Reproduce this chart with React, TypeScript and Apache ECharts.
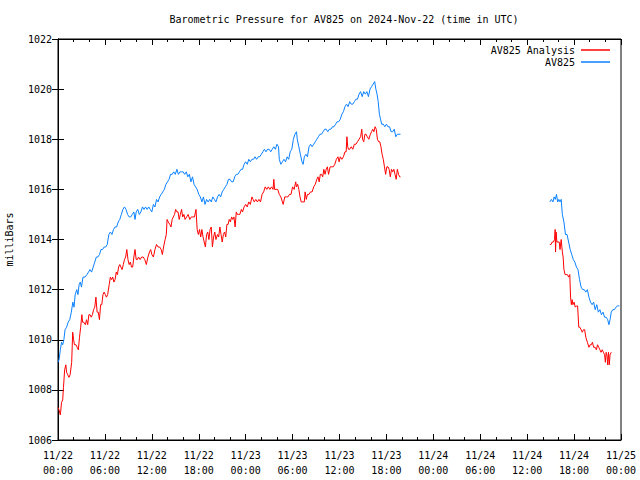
import React, { useEffect, useRef } from "react";
import * as echarts from "echarts";

const TITLE = "Barometric Pressure for AV825 on 2024-Nov-22 (time in UTC)";
const Y_NAME = "milliBars";
const SERIES_NAMES = ["AV825 Analysis", "AV825"];
const SERIES_COLORS = ["#ff0000", "#0a80ff"];
const DAYS = ["11/22", "11/23", "11/24", "11/25"];
const Y_MIN = 1006;
const Y_MAX = 1022;
const Y_STEP = 2;
const X_MIN = 0; // hours since 11/22 00:00
const X_MAX = 72;
const X_STEP = 6;

// [hours since 2024-11-22 00:00 UTC, mb]
const analysisPart1: [number, number][] = [
  [0.0, 1007.3], [0.13, 1007.2], [0.3, 1007.0], [0.45, 1007.5], [0.6, 1007.6], [0.7, 1008.1], [0.85, 1008.8], [1.0, 1009.0],
  [1.1, 1008.7], [1.25, 1008.6], [1.4, 1008.5], [1.55, 1008.6], [1.75, 1009.1], [1.88, 1010.3], [2.0, 1010.0], [2.1, 1009.8],
  [2.3, 1009.8], [2.45, 1009.7], [2.6, 1009.6], [2.75, 1010.1], [2.9, 1010.5], [3.05, 1011.0], [3.15, 1010.7], [3.3, 1010.7],
  [3.5, 1010.6], [3.65, 1010.8], [3.8, 1010.6], [3.95, 1011.0], [4.1, 1011.0], [4.25, 1010.9], [4.4, 1011.0], [4.55, 1011.2],
  [4.7, 1011.3], [4.85, 1011.7], [5.0, 1011.1], [5.15, 1011.1], [5.3, 1010.8], [5.45, 1011.4], [5.6, 1011.4], [5.75, 1011.8],
  [5.9, 1011.9], [6.05, 1011.8], [6.2, 1011.7], [6.35, 1011.8], [6.55, 1012.2], [6.7, 1012.5], [6.85, 1012.4], [7.0, 1012.5],
  [7.15, 1012.3], [7.3, 1012.4], [7.45, 1012.7], [7.6, 1012.6], [7.75, 1012.9], [7.9, 1013.0], [8.05, 1012.9], [8.2, 1012.8],
  [8.35, 1013.0], [8.5, 1013.2], [8.65, 1013.3], [8.8, 1013.6], [8.95, 1013.2], [9.1, 1013.0], [9.25, 1013.1], [9.4, 1012.9],
  [9.55, 1012.9], [9.7, 1013.3], [9.85, 1013.6], [10.0, 1013.2], [10.15, 1013.2], [10.3, 1013.3], [10.5, 1013.2], [10.7, 1013.3],
  [10.9, 1013.3], [11.1, 1013.2], [11.3, 1013.0], [11.5, 1013.3], [11.7, 1013.5], [11.85, 1013.6], [12.0, 1013.4], [12.2, 1013.3],
  [12.4, 1013.6], [12.6, 1013.8], [12.8, 1013.7], [13.0, 1013.7], [13.2, 1013.6], [13.35, 1013.4], [13.5, 1013.7], [13.7, 1014.0],
  [13.85, 1014.2], [13.95, 1014.8], [14.1, 1014.7], [14.3, 1014.6], [14.45, 1014.5], [14.6, 1014.8], [14.75, 1014.9], [14.9, 1015.0],
  [15.05, 1015.2], [15.2, 1015.1], [15.35, 1015.1], [15.5, 1014.8], [15.65, 1015.0], [15.8, 1015.2], [15.95, 1014.9], [16.1, 1015.0],
  [16.25, 1014.8], [16.45, 1014.9], [16.65, 1015.0], [16.85, 1014.8], [17.05, 1014.9], [17.25, 1014.9], [17.45, 1014.9], [17.65, 1015.2],
  [17.8, 1014.4], [17.95, 1014.2], [18.1, 1014.4], [18.25, 1014.1], [18.4, 1014.4], [18.55, 1014.1], [18.7, 1013.9], [18.85, 1013.7],
  [19.0, 1014.2], [19.15, 1014.3], [19.3, 1014.0], [19.45, 1014.4], [19.6, 1014.5], [19.75, 1013.7], [19.9, 1014.1], [20.05, 1014.3],
  [20.2, 1014.0], [20.4, 1014.2], [20.55, 1014.1], [20.7, 1014.5], [20.85, 1014.2], [21.0, 1013.9], [21.15, 1014.2], [21.3, 1014.3],
  [21.45, 1014.1], [21.6, 1014.6], [21.75, 1014.6], [21.9, 1014.8], [22.05, 1014.7], [22.2, 1014.9], [22.35, 1014.8], [22.5, 1014.9],
  [22.65, 1014.5], [22.8, 1015.1], [22.95, 1015.0], [23.1, 1015.0], [23.25, 1015.0], [23.45, 1015.2], [23.6, 1015.1], [23.8, 1015.3],
  [24.0, 1015.4], [24.2, 1015.3], [24.4, 1015.5], [24.6, 1015.4], [24.8, 1015.7], [24.95, 1015.6], [25.1, 1015.5], [25.3, 1015.6],
  [25.5, 1015.5], [25.7, 1015.6], [25.9, 1015.5], [26.1, 1015.8], [26.3, 1015.9], [26.5, 1016.1], [26.7, 1016.0], [26.9, 1016.1],
  [27.1, 1016.0], [27.3, 1016.1], [27.5, 1016.0], [27.6, 1016.4], [27.7, 1016.0], [27.9, 1016.0], [28.1, 1016.0], [28.3, 1015.8],
  [28.5, 1015.7], [28.7, 1015.5], [28.8, 1015.4], [29.0, 1015.7], [29.2, 1015.7], [29.4, 1015.7], [29.6, 1015.8], [29.8, 1015.8],
  [30.0, 1016.1], [30.2, 1016.0], [30.4, 1016.3], [30.5, 1016.1], [30.65, 1016.2], [30.8, 1016.0], [30.95, 1015.7], [31.1, 1015.5],
  [31.3, 1015.5], [31.5, 1015.5], [31.6, 1015.9], [31.75, 1015.6], [31.9, 1015.8], [32.1, 1015.8], [32.3, 1015.9], [32.5, 1015.9],
  [32.7, 1016.1], [32.9, 1016.2], [33.1, 1016.4], [33.25, 1016.5], [33.4, 1016.3], [33.55, 1016.6], [33.7, 1016.6], [33.85, 1016.5],
  [34.0, 1016.8], [34.15, 1016.6], [34.3, 1016.8], [34.45, 1016.9], [34.6, 1016.6], [34.8, 1016.9], [35.0, 1016.9], [35.2, 1016.9],
  [35.4, 1017.0], [35.6, 1017.2], [35.8, 1017.3], [35.95, 1017.1], [36.1, 1017.3], [36.3, 1017.2], [36.5, 1017.3], [36.7, 1017.5],
  [36.85, 1017.5], [36.95, 1018.1], [37.05, 1017.7], [37.15, 1017.6], [37.3, 1017.6], [37.5, 1017.7], [37.7, 1017.6], [37.9, 1017.8],
  [38.1, 1017.8], [38.3, 1017.9], [38.5, 1018.0], [38.7, 1018.1], [38.85, 1018.4], [38.95, 1018.0], [39.1, 1017.9], [39.25, 1018.2],
  [39.4, 1018.2], [39.55, 1018.1], [39.75, 1018.0], [39.95, 1018.2], [40.1, 1018.3], [40.25, 1018.4], [40.4, 1018.3], [40.55, 1018.5],
  [40.7, 1018.4], [40.85, 1018.0], [41.0, 1017.9], [41.15, 1017.9], [41.3, 1017.7], [41.45, 1017.4], [41.6, 1017.2], [41.75, 1016.9],
  [41.9, 1016.6], [42.05, 1016.9], [42.2, 1016.9], [42.35, 1016.8], [42.5, 1016.5], [42.65, 1016.8], [42.8, 1016.7], [42.95, 1016.8],
  [43.1, 1016.6], [43.25, 1016.4], [43.4, 1016.8], [43.55, 1016.6], [43.7, 1016.5], [43.8, 1016.5],
];

const analysisPart2: [number, number][] = [
  [62.9, 1013.8], [63.05, 1013.8], [63.2, 1013.9], [63.35, 1013.9], [63.5, 1014.0], [63.58, 1014.4], [63.63, 1013.5], [63.7, 1014.3],
  [63.8, 1013.9], [63.95, 1013.9], [64.1, 1013.9], [64.2, 1013.6], [64.35, 1014.0], [64.5, 1013.5], [64.6, 1013.3], [64.7, 1012.8],
  [64.85, 1012.6], [65.0, 1012.6], [65.15, 1012.6], [65.3, 1012.5], [65.45, 1012.6], [65.55, 1011.7], [65.65, 1011.4], [65.75, 1011.6],
  [65.85, 1011.4], [66.0, 1011.5], [66.15, 1011.3], [66.3, 1011.35], [66.45, 1011.35], [66.6, 1010.5], [66.75, 1010.5], [66.9, 1010.4],
  [67.05, 1010.3], [67.2, 1010.4], [67.35, 1010.4], [67.5, 1010.1], [67.7, 1009.9], [67.9, 1009.7], [68.05, 1009.8], [68.2, 1009.8],
  [68.35, 1009.9], [68.5, 1009.7], [68.7, 1009.7], [68.85, 1009.6], [69.0, 1009.8], [69.15, 1009.7], [69.3, 1009.6], [69.45, 1009.5],
  [69.6, 1009.6], [69.75, 1009.5], [69.9, 1009.4], [70.0, 1009.1], [70.1, 1009.5], [70.2, 1009.4], [70.3, 1009.0], [70.4, 1009.5],
  [70.5, 1009.0], [70.6, 1009.4], [70.75, 1009.5],
];

const stationPart1: [number, number][] = [
  [0.0, 1009.1], [0.13, 1009.2], [0.3, 1009.6], [0.45, 1009.9], [0.6, 1009.8], [0.75, 1010.0], [0.9, 1010.4], [1.1, 1010.5],
  [1.3, 1010.7], [1.5, 1010.8], [1.7, 1011.1], [1.9, 1011.5], [2.05, 1011.3], [2.2, 1011.8], [2.4, 1012.0], [2.55, 1011.8],
  [2.7, 1012.2], [2.85, 1012.3], [3.0, 1012.1], [3.2, 1012.5], [3.45, 1012.5], [3.7, 1012.6], [3.9, 1012.7], [4.1, 1012.8],
  [4.3, 1012.7], [4.5, 1012.9], [4.7, 1013.1], [4.9, 1013.3], [5.1, 1013.3], [5.3, 1013.4], [5.5, 1013.6], [5.7, 1013.6],
  [5.9, 1013.7], [6.1, 1013.7], [6.3, 1013.8], [6.5, 1014.2], [6.7, 1014.3], [6.9, 1014.2], [7.1, 1014.4], [7.3, 1014.5],
  [7.5, 1014.5], [7.7, 1014.7], [7.9, 1014.8], [8.1, 1015.0], [8.3, 1015.2], [8.5, 1015.3], [8.7, 1015.2], [8.9, 1015.0],
  [9.1, 1014.9], [9.3, 1014.9], [9.5, 1015.0], [9.7, 1015.1], [9.85, 1014.8], [10.0, 1015.1], [10.2, 1015.2], [10.4, 1015.0],
  [10.6, 1015.1], [10.8, 1015.3], [11.0, 1015.2], [11.2, 1015.3], [11.4, 1015.2], [11.6, 1015.3], [11.8, 1015.2], [12.0, 1015.1],
  [12.2, 1015.4], [12.4, 1015.3], [12.6, 1015.6], [12.8, 1015.5], [13.0, 1015.7], [13.2, 1015.8], [13.4, 1015.9], [13.6, 1016.0],
  [13.8, 1016.2], [14.0, 1016.3], [14.2, 1016.4], [14.4, 1016.6], [14.6, 1016.6], [14.8, 1016.7], [15.0, 1016.6], [15.2, 1016.8],
  [15.4, 1016.6], [15.6, 1016.7], [15.8, 1016.7], [16.0, 1016.7], [16.2, 1016.6], [16.4, 1016.7], [16.6, 1016.5], [16.8, 1016.6],
  [17.0, 1016.3], [17.2, 1016.5], [17.4, 1016.2], [17.6, 1016.1], [17.8, 1016.0], [18.0, 1015.8], [18.2, 1015.7], [18.4, 1015.5],
  [18.6, 1015.7], [18.8, 1015.4], [19.0, 1015.6], [19.2, 1015.5], [19.4, 1015.6], [19.6, 1015.5], [19.8, 1015.7], [20.0, 1015.6],
  [20.2, 1015.5], [20.4, 1015.7], [20.6, 1015.8], [20.8, 1015.7], [21.0, 1015.9], [21.2, 1016.0], [21.4, 1016.1], [21.6, 1016.2],
  [21.8, 1016.4], [22.0, 1016.4], [22.2, 1016.3], [22.4, 1016.3], [22.6, 1016.5], [22.8, 1016.6], [23.0, 1016.6], [23.2, 1016.7],
  [23.4, 1016.8], [23.6, 1016.8], [23.8, 1017.0], [24.0, 1017.1], [24.2, 1017.0], [24.4, 1017.2], [24.6, 1017.1], [24.8, 1017.2],
  [25.0, 1017.2], [25.2, 1017.3], [25.4, 1017.2], [25.6, 1017.3], [25.8, 1017.3], [26.0, 1017.4], [26.2, 1017.5], [26.4, 1017.6],
  [26.6, 1017.5], [26.8, 1017.6], [27.0, 1017.6], [27.2, 1017.5], [27.4, 1017.6], [27.6, 1017.7], [27.8, 1017.6], [28.0, 1017.8],
  [28.2, 1017.7], [28.3, 1017.2], [28.5, 1017.0], [28.7, 1017.1], [28.9, 1017.2], [29.1, 1017.1], [29.3, 1017.3], [29.5, 1017.2],
  [29.7, 1017.5], [29.9, 1017.6], [30.1, 1018.0], [30.3, 1018.2], [30.5, 1018.3], [30.6, 1018.0], [30.8, 1017.7], [31.0, 1017.4],
  [31.2, 1017.1], [31.35, 1017.0], [31.5, 1017.3], [31.7, 1017.4], [31.9, 1017.3], [32.1, 1017.7], [32.3, 1017.8], [32.5, 1017.7],
  [32.7, 1017.8], [32.9, 1017.9], [33.1, 1018.0], [33.3, 1018.1], [33.5, 1018.2], [33.7, 1018.2], [33.9, 1018.3], [34.1, 1018.4],
  [34.3, 1018.4], [34.5, 1018.3], [34.7, 1018.4], [34.9, 1018.4], [35.1, 1018.5], [35.3, 1018.5], [35.5, 1018.6], [35.7, 1018.7],
  [35.9, 1018.7], [36.1, 1018.8], [36.3, 1019.0], [36.5, 1019.1], [36.7, 1019.3], [36.9, 1019.4], [37.1, 1019.3], [37.3, 1019.5],
  [37.5, 1019.4], [37.7, 1019.4], [37.9, 1019.5], [38.1, 1019.6], [38.3, 1019.6], [38.5, 1019.8], [38.7, 1019.9], [38.9, 1019.7],
  [39.1, 1019.9], [39.3, 1019.8], [39.5, 1019.9], [39.7, 1019.7], [39.9, 1020.0], [40.1, 1020.1], [40.3, 1020.2], [40.5, 1020.3],
  [40.65, 1020.0], [40.8, 1019.8], [40.95, 1019.5], [41.1, 1019.0], [41.25, 1018.8], [41.4, 1018.6], [41.6, 1018.6], [41.8, 1018.5],
  [42.0, 1018.6], [42.2, 1018.5], [42.4, 1018.5], [42.6, 1018.3], [42.8, 1018.3], [43.0, 1018.4], [43.2, 1018.1], [43.4, 1018.2],
  [43.6, 1018.2], [43.8, 1018.2],
];

const stationPart2: [number, number][] = [
  [62.9, 1015.5], [63.1, 1015.6], [63.3, 1015.5], [63.45, 1015.7], [63.6, 1015.6], [63.75, 1015.8], [63.9, 1015.5], [64.05, 1015.6],
  [64.2, 1015.5], [64.35, 1015.6], [64.5, 1015.0], [64.7, 1014.7], [64.9, 1014.2], [65.1, 1014.2], [65.3, 1013.9], [65.5, 1013.6],
  [65.7, 1013.4], [65.9, 1013.2], [66.1, 1013.1], [66.3, 1012.9], [66.5, 1012.8], [66.7, 1012.4], [66.9, 1012.1], [67.1, 1012.0],
  [67.3, 1012.0], [67.5, 1011.9], [67.7, 1012.0], [67.9, 1011.7], [68.1, 1011.5], [68.3, 1011.4], [68.5, 1011.5], [68.7, 1011.2],
  [68.9, 1011.4], [69.1, 1011.1], [69.3, 1011.2], [69.5, 1011.0], [69.7, 1011.1], [69.9, 1010.9], [70.1, 1010.9], [70.3, 1010.8],
  [70.45, 1010.6], [70.6, 1010.8], [70.75, 1011.1], [70.95, 1011.2], [71.15, 1011.2], [71.35, 1011.3], [71.55, 1011.35], [71.8, 1011.35],
];

const FONT = '"DejaVu Sans Mono", "Liberation Mono", monospace';

function joinParts(a: [number, number][], b: [number, number][]) {
  return [...a, [53, "-"], ...b];
}

export default function App() {
  const ref = useRef<HTMLDivElement>(null);
  useEffect(() => {
    if (!ref.current) return;
    const chart = echarts.init(ref.current, null, { renderer: "svg" });
    const xLabel = (v: number) => {
      const day = DAYS[Math.floor(v / 24)];
      const hh = String(v % 24).padStart(2, "0");
      return `${day}\n${hh}:00`;
    };
    const tickBase = {
      show: true,
      inside: true,
      length: 6,
      lineStyle: { color: "#000", width: 1 },
    };
    const minorBase = {
      show: true,
      splitNumber: 3,
      length: 3,
      lineStyle: { color: "#000", width: 1 },
    };
    chart.setOption({
      animation: false,
      backgroundColor: "#fff",
      title: {
        text: TITLE,
        left: 339,
        top: 9,
        textAlign: "center",
        textStyle: { fontFamily: FONT, fontSize: 10, fontWeight: "normal", color: "#000" },
      },
      legend: {
        orient: "vertical",
        right: 25,
        top: 40,
        align: "right",
        icon: "rect",
        itemWidth: 29,
        itemHeight: 1.5,
        itemGap: 2,
        textStyle: { fontFamily: FONT, fontSize: 10, color: "#000", padding: [0, 1, 0, 0] },
        data: SERIES_NAMES,
      },
      grid: {
        left: 58,
        right: 19,
        top: 39,
        bottom: 40,
        show: true,
        borderColor: "#000",
        borderWidth: 1,
        containLabel: false,
        outerBoundsMode: "none",
      },
      xAxis: [
        {
          type: "value",
          min: X_MIN,
          max: X_MAX,
          interval: X_STEP,
          position: "bottom",
          axisLine: { show: true, lineStyle: { color: "#000", width: 1 } },
          axisTick: tickBase,
          minorTick: minorBase,
          splitLine: { show: false },
          axisLabel: {
            fontFamily: FONT,
            fontSize: 10,
            color: "#000",
            margin: 8,
            lineHeight: 15,
            formatter: xLabel,
          },
        },
        {
          type: "value",
          min: X_MIN,
          max: X_MAX,
          interval: X_STEP,
          position: "top",
          axisLine: { show: true, lineStyle: { color: "#000", width: 1 } },
          axisTick: tickBase,
          minorTick: minorBase,
          splitLine: { show: false },
          axisLabel: { show: false },
        },
      ],
      yAxis: [
        {
          type: "value",
          min: Y_MIN,
          max: Y_MAX,
          interval: Y_STEP,
          position: "left",
          name: Y_NAME,
          nameLocation: "middle",
          nameRotate: 90,
          nameGap: 44,
          nameTextStyle: { fontFamily: FONT, fontSize: 10, color: "#000" },
          axisLine: { show: true, lineStyle: { color: "#000", width: 1 } },
          axisTick: tickBase,
          splitLine: { show: false },
          axisLabel: {
            fontFamily: FONT,
            fontSize: 10,
            color: "#000",
            margin: 6,
            formatter: (v: number) => String(v),
          },
        },
        {
          type: "value",
          min: Y_MIN,
          max: Y_MAX,
          interval: Y_STEP,
          position: "right",
          axisLine: { show: true, lineStyle: { color: "#000", width: 1 } },
          axisTick: tickBase,
          splitLine: { show: false },
          axisLabel: { show: false },
        },
      ],
      series: [
        {
          name: SERIES_NAMES[0],
          type: "line",
          data: joinParts(analysisPart1, analysisPart2),
          showSymbol: false,
          symbol: "none",
          connectNulls: false,
          color: SERIES_COLORS[0],
          lineStyle: { color: SERIES_COLORS[0], width: 1 },
        },
        {
          name: SERIES_NAMES[1],
          type: "line",
          data: joinParts(stationPart1, stationPart2),
          showSymbol: false,
          symbol: "none",
          connectNulls: false,
          color: SERIES_COLORS[1],
          lineStyle: { color: SERIES_COLORS[1], width: 1 },
        },
      ],
    });
    return () => chart.dispose();
  }, []);
  return (
    <div
      ref={ref}
      style={{ position: "fixed", left: 0, top: 0, width: 640, height: 480, background: "#fff" }}
    />
  );
}
